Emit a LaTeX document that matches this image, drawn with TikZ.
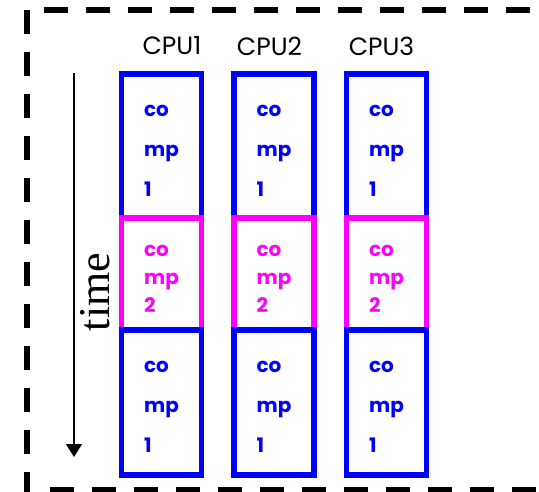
\documentclass[tikz,border=0pt]{standalone}
\usepackage{fontspec}
\setsansfont{Poppins}
\newfontfamily\timefont{Liberation Serif}
\usepackage{tikz}
\usetikzlibrary{arrows.meta,positioning}
\definecolor{stageblue}{RGB}{0,0,255}
\definecolor{syncmag}{RGB}{255,0,255}

\begin{document}
\begin{tikzpicture}[x=1pt, y=-1pt]
    \def\W{80}    % box width
    \def\D{112.5} % column step

    % Style for boxes and texts
    \tikzset{
        stagebox/.style={rectangle, draw=stageblue, line width=5.5pt, minimum width=\W pt, inner sep=0pt},
        syncbox/.style={rectangle, draw=syncmag, line width=5.5pt, minimum width=\W pt, inner sep=0pt},
        stagetxt/.style={align=left, inner sep=0pt, text=stageblue, font=\sffamily\bfseries\fontsize{20}{40}\selectfont},
        synctxt/.style={align=left, inner sep=0pt, text=syncmag, font=\sffamily\bfseries\fontsize{20}{28}\selectfont},
        cpulbl/.style={inner sep=0pt, font=\sffamily\fontsize{25}{28}\selectfont},
        timelbl/.style={inner sep=0pt, rotate=90, font=\timefont\fontsize{44}{48}\selectfont}
    }

    \useasboundingbox (0,0) rectangle (539,492);

    % --- DASHED FRAME ---
    \draw[line width=6pt, dash pattern=on 24pt off 18pt] (26.5,10) -- (26.5,492);
    \draw[line width=6pt, dash pattern=on 24pt off 18pt] (44,10) -- (560,10);
    \draw[line width=6pt, dash pattern=on 24pt off 18pt] (50,489.5) -- (560,489.5);

    % --- COLUMNS ---
    \foreach \i in {1,2,3} {
        \pgfmathsetmacro{\cx}{161.5 + (\i-1)*\D}
        \node[stagebox, minimum height=144pt] (top\i) at (\cx,146) {};
        \node[syncbox, minimum height=112pt] (mid\i) at (\cx,274) {};
        \node[stagebox, minimum height=145pt] (bot\i) at (\cx,402.5) {};
        \node[stagetxt] (ttop\i) at ([yshift=-5pt]top\i.center) {co\\mp\\1};
        \node[synctxt] (tmid\i) at ([yshift=-5pt]mid\i.center) {co\\mp\\2};
        \node[stagetxt] (tbot\i) at ([yshift=-4.5pt]bot\i.center) {co\\mp\\1};
    }

    % --- CPU LABELS ---
    \node[cpulbl] (cpu1) at (172,46) {CPU1};
    \node[cpulbl] (cpu2) at (269.5,46) {CPU2};
    \node[cpulbl] (cpu3) at (381.5,46) {CPU3};

    % --- TIME AXIS ---
    \coordinate (tstart) at (74,73);
    \coordinate (tend) at (74,457);
    \draw[line width=1.5pt, -{Triangle[length=13pt,width=16pt]}] (tstart) -- (tend);
    \node[timelbl] (time) at (95,292) {time};

\end{tikzpicture}
\end{document}
